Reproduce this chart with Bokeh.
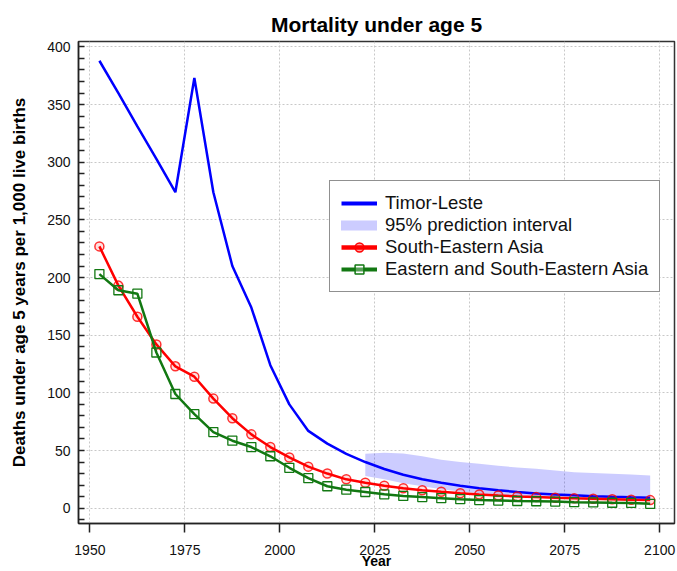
from bokeh.plotting import figure
from bokeh.models import Range1d, SingleIntervalTicker, Legend, LegendItem
from bokeh.embed import file_html
from bokeh.resources import INLINE

# ---- data ----
years = [1952.5, 1957.5, 1962.5, 1967.5, 1972.5, 1977.5, 1982.5, 1987.5, 1992.5, 1997.5,
         2002.5, 2007.5, 2012.5, 2017.5, 2022.5, 2027.5, 2032.5, 2037.5, 2042.5, 2047.5,
         2052.5, 2057.5, 2062.5, 2067.5, 2072.5, 2077.5, 2082.5, 2087.5, 2092.5, 2097.5]
timor_leste = [388, 360, 331, 303, 274, 373, 274, 210, 174, 124,
               90, 67, 56, 47, 40, 34, 29, 25, 22, 19.5,
               17.3, 15.5, 14.0, 12.8, 11.9, 11.1, 10.4, 9.8, 9.4, 9.1]
south_eastern_asia = [227, 193, 166, 142, 123, 114, 95, 78, 64, 53,
                      44, 36, 30, 25, 22, 19.5, 17.3, 15.5, 14.2, 13.0,
                      11.9, 11.0, 10.2, 9.6, 9.0, 8.5, 8.1, 7.7, 7.3, 7.0]
east_se_asia = [203, 189, 186, 135, 99, 81.5, 66, 58.5, 53, 45,
                35, 26, 19, 16, 14, 12, 10.6, 9.6, 8.7, 7.8,
                7.0, 6.6, 6.2, 6.0, 5.7, 5.2, 5.0, 4.7, 4.5, 3.8]
pi_years = [2022.5, 2027.5, 2032.5, 2037.5, 2042.5, 2047.5, 2052.5, 2057.5,
            2062.5, 2067.5, 2072.5, 2077.5, 2082.5, 2087.5, 2092.5, 2097.5]
pi_low = [28, 25, 21.5, 19, 16.5, 14.5, 13, 11.5, 10.5, 9.5, 8.7, 8.0, 7.4, 6.9, 6.5, 6.2]
pi_high = [47.2, 48, 47.4, 45, 42, 40, 38.5, 36.7, 35.3, 34.1, 32.7, 31.2, 30.4, 29.8, 29.2, 28.4]

labels = ["Timor-Leste", "95% prediction interval", "South-Eastern Asia",
          "Eastern and South-Eastern Asia"]

BLUE = "#0000ff"
RED = "#ff0000"
GREEN = "#127812"
FONT = "Liberation Sans"
NAN = float("nan")

p = figure(width=677, height=571, output_backend="svg", toolbar_location=None,
           x_range=Range1d(1947.0, 2103.9), y_range=Range1d(-13.3, 404.7),
           min_border_left=78, min_border_right=3, min_border_top=41, min_border_bottom=48,
           title="Mortality under age 5")

p.title.text_font = FONT
p.title.text_font_size = "21px"
p.title.text_font_style = "bold"
p.title.align = "center"
p.title.standoff = 12
p.title.text_color = "#000000"

p.outline_line_color = "#333333"
p.outline_line_width = 1.5
p.background_fill_color = "white"
p.border_fill_color = "white"

# axes
p.xaxis.ticker = SingleIntervalTicker(interval=25, num_minor_ticks=0)
p.yaxis.ticker = SingleIntervalTicker(interval=50, num_minor_ticks=5)

for ax in (p.xaxis[0], p.yaxis[0]):
    ax.axis_line_color = "#222222"
    ax.axis_line_width = 1.5
    ax.major_label_text_font = FONT
    ax.major_label_text_font_size = "14px"
    ax.major_label_text_color = "#111111"
    ax.axis_label_text_font = FONT
    ax.axis_label_text_font_style = "bold"
    ax.axis_label_text_color = "#000000"

p.xaxis.axis_label = "Year"
p.xaxis.axis_label_text_font_size = "14px"
p.xaxis.major_tick_in = 0
p.xaxis.major_tick_out = 9
p.xaxis.major_tick_line_width = 1.5
p.xaxis.major_tick_line_color = "#222222"
p.xaxis.minor_tick_line_color = None
p.xaxis.major_label_standoff = 12
p.xaxis.axis_label_standoff = -5

p.yaxis.axis_label = "Deaths under age 5 years per 1,000 live births"
p.yaxis.axis_label_text_font_size = "17px"
p.yaxis.major_tick_line_color = None
p.yaxis.major_tick_in = 0
p.yaxis.major_tick_out = 0
p.yaxis.minor_tick_in = 6
p.yaxis.minor_tick_out = 0
p.yaxis.minor_tick_line_color = "#222222"
p.yaxis.minor_tick_line_width = 1.5
p.yaxis.major_label_standoff = 8
p.yaxis.axis_label_standoff = 15

for g in (p.xgrid[0], p.ygrid[0]):
    g.grid_line_color = "#c8c8c8"
    g.grid_line_dash = "2 2"
    g.grid_line_width = 1

# data glyphs
p.varea(x=pi_years, y1=pi_low, y2=pi_high, fill_color=BLUE, fill_alpha=0.2)
p.line(years, timor_leste, line_color=BLUE, line_width=2.5)
p.line(years, south_eastern_asia, line_color=RED, line_width=2.5)
p.scatter(years, south_eastern_asia, marker="circle", size=9, fill_color=RED, fill_alpha=0.12,
          line_color=RED, line_width=1.5, line_alpha=0.8)
p.line(years, east_se_asia, line_color=GREEN, line_width=2.5)
p.scatter(years, east_se_asia, marker="square", size=9, fill_color=None,
          line_color=GREEN, line_width=1.3)

# legend proxies (NaN data: nothing drawn in the plot, styling only for the legend)
lg_blue = p.line(x=[NAN], y=[NAN], line_color=BLUE, line_width=4)
lg_band = p.line(x=[NAN], y=[NAN], line_color="#ccccff", line_width=10, line_cap="round")
lg_red = p.line(x=[NAN], y=[NAN], line_color=RED, line_width=4.5)
lg_red_m = p.scatter(x=[NAN], y=[NAN], marker="circle", size=10, fill_color=RED, fill_alpha=0.35,
                     line_color=RED, line_width=1.5)
lg_green = p.line(x=[NAN], y=[NAN], line_color=GREEN, line_width=4)
lg_green_m = p.scatter(x=[NAN], y=[NAN], marker="square", size=10, fill_color="white",
                       fill_alpha=0.3, line_color=GREEN, line_width=1.5)

legend = Legend(items=[
    LegendItem(label=labels[0], renderers=[lg_blue]),
    LegendItem(label=labels[1], renderers=[lg_band]),
    LegendItem(label=labels[2], renderers=[lg_red, lg_red_m]),
    LegendItem(label=labels[3], renderers=[lg_green, lg_green_m]),
], location=(251, 231))
legend.margin = 0
legend.padding = 11
legend.spacing = 0
legend.glyph_width = 36
legend.glyph_height = 22
legend.label_height = 22
legend.label_standoff = 8
legend.label_text_font = FONT
legend.label_text_font_size = "18.5px"
legend.label_text_color = "#111111"
legend.border_line_color = "#222222"
legend.border_line_width = 1.5
legend.background_fill_color = "white"
legend.background_fill_alpha = 1.0
p.add_layout(legend)

open("out.html", "w").write(file_html(p, INLINE))
